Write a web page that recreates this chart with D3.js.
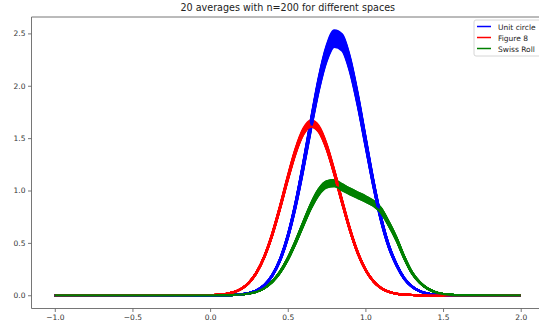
<!DOCTYPE html>
<html>
<head>
<meta charset="utf-8">
<script src="https://cdn.jsdelivr.net/npm/d3@7"></script>
<style>
  body { margin: 0; background: #fff; }
  svg { font-family: "DejaVu Sans", sans-serif; }
</style>
</head>
<body>
<svg id="chart" width="539" height="330"></svg>
<script>
'use strict';

var xGrid = [-1.0,
    0.00, 0.05, 0.10, 0.15, 0.20, 0.25, 0.30, 0.35, 0.40, 0.45,
    0.50, 0.55, 0.60, 0.65, 0.70, 0.75, 0.80, 0.85, 0.90, 0.95,
    1.00, 1.05, 1.10, 1.15, 1.20, 1.25, 1.30, 1.35, 1.40, 1.45,
    1.50, 1.55, 1.60,
    2.0];

// highest run of each space
var unitCircle = [0,
    0.000, 0.000, 0.001, 0.003, 0.009, 0.021, 0.048, 0.100, 0.194, 0.346,
    0.575, 0.887, 1.269, 1.684, 2.077, 2.375, 2.522, 2.484, 2.272, 1.927,
    1.518, 1.110, 0.755, 0.485, 0.300, 0.165, 0.085, 0.040, 0.017, 0.007,
    0.002, 0.001, 0.000,
    0];
var figure8 = [0,
    0.002, 0.005, 0.012, 0.028, 0.061, 0.120, 0.221, 0.374, 0.584, 0.843,
    1.125, 1.384, 1.572, 1.650, 1.598, 1.429, 1.180, 0.899, 0.633, 0.411,
    0.247, 0.137, 0.070, 0.033, 0.014, 0.006, 0.002, 0.001, 0.000, 0.000,
    0.000, 0.000, 0.000,
    0];
var swissRoll = [0,
    0.000, 0.001, 0.001, 0.003, 0.007, 0.017, 0.036, 0.072, 0.132, 0.224,
    0.354, 0.516, 0.698, 0.873, 1.010, 1.083, 1.095, 1.055, 1.015, 0.978,
    0.942, 0.900, 0.830, 0.700, 0.550, 0.370, 0.220, 0.125, 0.065, 0.030,
    0.012, 0.004, 0.001,
    0];

// peak height of each of the 20 runs
var unitCirclePeaks = [2.53, 2.52, 2.51, 2.50, 2.50, 2.49, 2.48, 2.47, 2.47, 2.46,
    2.45, 2.44, 2.44, 2.43, 2.42, 2.41, 2.40, 2.39, 2.38, 2.37];
var figure8Peaks = [1.67, 1.66, 1.66, 1.65, 1.65, 1.65, 1.64, 1.64, 1.64, 1.64,
    1.64, 1.63, 1.63, 1.63, 1.63, 1.62, 1.62, 1.62, 1.61, 1.61];
var swissRollPeaks = [1.10, 1.10, 1.09, 1.09, 1.09, 1.08, 1.08, 1.08, 1.07, 1.07,
    1.07, 1.07, 1.06, 1.06, 1.06, 1.05, 1.05, 1.05, 1.04, 1.04];

var xTicks = [-1.0, -0.5, 0.0, 0.5, 1.0, 1.5, 2.0];
var yTicks = [0.0, 0.5, 1.0, 1.5, 2.0, 2.5];

var spaces = [
    {name: "Unit circle", color: "blue", base: unitCircle, peaks: unitCirclePeaks},
    {name: "Figure 8", color: "red", base: figure8, peaks: figure8Peaks},
    {name: "Swiss Roll", color: "green", base: swissRoll, peaks: swissRollPeaks}
];

var svg = d3.select("#chart"),
    plotLeft = 31.5, plotRight = 544, plotTop = 17, plotBottom = 308.5;

var xMin = d3.min(xGrid), xMax = d3.max(xGrid),
    yMax = d3.max(spaces, function(s) { return d3.max(s.peaks); }),
    xPad = (xMax - xMin) * 0.05, yPad = yMax * 0.05;

var x = d3.scaleLinear().domain([xMin - xPad, xMax + xPad]).range([plotLeft, plotRight]),
    y = d3.scaleLinear().domain([-yPad, yMax + yPad]).range([plotBottom, plotTop]);

var line = d3.line()
    .x(function(d) { return x(d[0]); })
    .y(function(d) { return y(d[1]); })
    .curve(d3.curveMonotoneX);

function runPoints(space, peak) {
    var k = peak / d3.max(space.base);
    return xGrid.map(function(xv, i) { return [xv, space.base[i] * k]; });
}

var plot = svg.append("g");
// runs are plotted one after another, each run draws all three spaces
d3.range(20).forEach(function(i) {
    spaces.forEach(function(s) {
        plot.append("path")
            .attr("d", line(runPoints(s, s.peaks[i])))
            .style("fill", "none")
            .style("stroke", s.color)
            .style("stroke-width", 2.1)
            .style("stroke-linejoin", "round");
    });
});

var xAxis = svg.append("g")
    .attr("transform", "translate(0," + plotBottom + ")")
    .call(d3.axisBottom(x).tickValues(xTicks).tickSize(3.5).tickPadding(2.5));
var yAxis = svg.append("g")
    .attr("transform", "translate(" + plotLeft + ",0)")
    .call(d3.axisLeft(y).tickValues(yTicks).tickSize(3.5).tickPadding(2.5));

[xAxis, yAxis].forEach(function(ax) {
    ax.select(".domain").remove();
    ax.selectAll(".tick line").style("stroke", "#555").style("stroke-width", 0.8);
    ax.selectAll(".tick text")
        .style("font-family", "DejaVu Sans, sans-serif")
        .style("font-size", "7.5px")
        .style("fill", "#333")
        .text(function(d) { return d3.format(".1f")(d).replace("-", "\u2212"); });
});

// spines
svg.append("path")
    .attr("d", "M" + plotRight + "," + plotTop + "H" + plotLeft + "V" + plotBottom + "H" + plotRight)
    .style("fill", "none")
    .style("stroke", "#666")
    .style("stroke-width", 0.9);

svg.append("text")
    .attr("x", (plotLeft + plotRight) / 2)
    .attr("y", 11)
    .attr("text-anchor", "middle")
    .style("font-size", "9.6px")
    .style("fill", "#222")
    .text("20 averages with n=200 for different spaces");

// legend
var legend = svg.append("g").attr("transform", "translate(474,20)");
legend.append("rect")
    .attr("width", 70).attr("height", 36)
    .attr("rx", 2)
    .style("fill", "#fff").style("fill-opacity", 0.8)
    .style("stroke", "#ccc").style("stroke-width", 0.8);
spaces.forEach(function(s, i) {
    var ly = 6.5 + i * 11;
    legend.append("line")
        .attr("x1", 3).attr("x2", 17).attr("y1", ly).attr("y2", ly)
        .style("stroke", s.color).style("stroke-width", 1.5);
    legend.append("text")
        .attr("x", 24).attr("y", ly + 3)
        .style("font-size", "7.5px")
        .style("fill", "#222")
        .text(s.name);
});
</script>
</body>
</html>
